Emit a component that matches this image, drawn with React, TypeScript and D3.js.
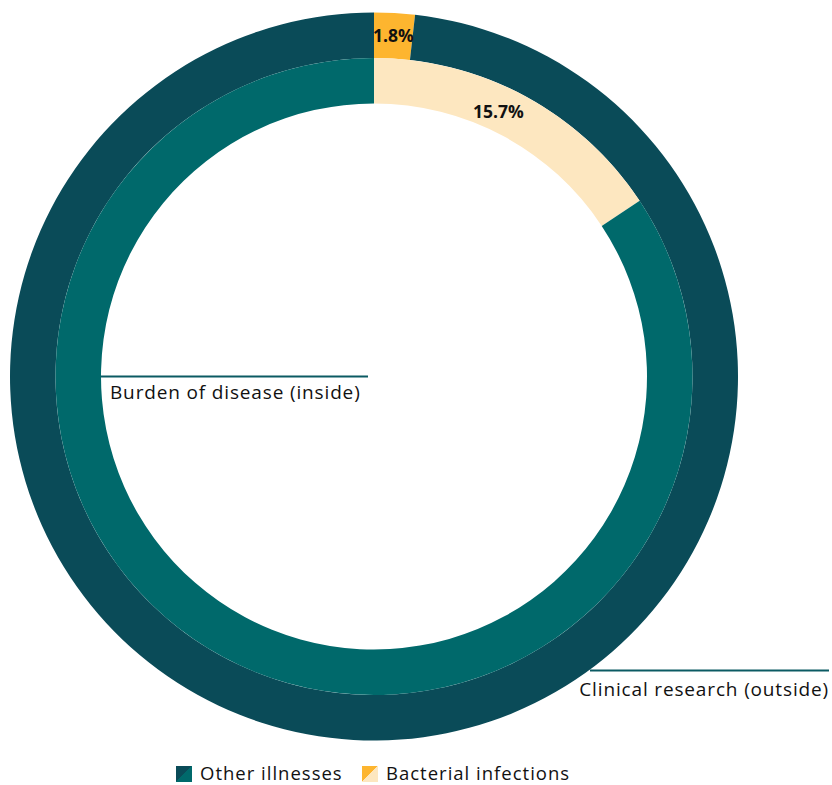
import React from "react";
import * as d3 from "d3";

const categories = ["Bacterial infections", "Other illnesses"];
const outerValues = [1.8, 98.2]; // Clinical research (outside)
const innerValues = [15.7, 84.3]; // Burden of disease (inside)
const outerColors = ["#fdb52f", "#0a4b58"];
const innerColors = ["#fde7c0", "#00696b"];
const legendOrder = ["Other illnesses", "Bacterial infections"];
const ringLabels = ["Burden of disease (inside)", "Clinical research (outside)"];

const W = 832;
const H = 785;
const FONT = "'Open Sans', sans-serif";
const LS = 0.85;

export default function App() {
  const cx = 374;
  const cy = 376.5;
  const rOuter = 364;
  const rMid = 318.5;
  const rInner = 273;

  const pie = d3.pie<number>().sort(null).value((d) => d);
  const outerArcs = pie(outerValues);
  const innerArcs = pie(innerValues);
  const outerArc = d3.arc<d3.PieArcDatum<number>>().innerRadius(rMid).outerRadius(rOuter);
  const innerArc = d3.arc<d3.PieArcDatum<number>>().innerRadius(rInner).outerRadius(rMid);

  const oc = outerArc.centroid(outerArcs[0]);
  const innerLabelArc = d3.arc<any>().innerRadius(rInner).outerRadius(rMid);
  const ia = innerArcs[0];
  const il = innerLabelArc.centroid({ ...ia, endAngle: ia.startAngle + (ia.endAngle - ia.startAngle) * 0.88 } as any);

  const legendX = [176, 362];

  return (
    <svg
      width={W}
      height={H}
      style={{ position: "absolute", left: 0, top: 0, background: "#fff" }}
      fontFamily={FONT}
    >
      <defs>
        {legendOrder.map((name, i) => {
          const idx = categories.indexOf(name);
          return (
            <linearGradient key={name} id={`sw${i}`} x1="0" y1="0" x2="1" y2="1">
              <stop offset="0.5" stopColor={outerColors[idx]} />
              <stop offset="0.5" stopColor={innerColors[idx]} />
            </linearGradient>
          );
        })}
      </defs>
      <g transform={`translate(${cx},${cy})`}>
        {outerArcs.map((a, i) => (
          <path key={"o" + i} d={outerArc(a) || ""} fill={outerColors[i]} />
        ))}
        {innerArcs.map((a, i) => (
          <path key={"i" + i} d={innerArc(a) || ""} fill={innerColors[i]} />
        ))}
        <text x={oc[0]} y={oc[1]} dy="0.35em" textAnchor="middle" fontWeight={700} fontSize={17.5} fill="#111">
          {outerValues[0].toFixed(1)}%
        </text>
        <text x={il[0]} y={il[1] + 4} dy="0.35em" textAnchor="middle" fontWeight={700} fontSize={17.5} fill="#111">
          {innerValues[0].toFixed(1)}%
        </text>
        <line x1={-rInner} x2={-6} y1={0} y2={0} stroke="#0b5a63" strokeWidth={2} />
        <text x={-rInner + 9} y={22} fontSize={19} letterSpacing={LS} fill="#111">
          {ringLabels[0]}
        </text>
      </g>
      <line x1={590} x2={829} y1={670.5} y2={670.5} stroke="#0b5a63" strokeWidth={2} />
      <text x={829} y={696} textAnchor="end" fontSize={19} letterSpacing={LS} fill="#111">
        {ringLabels[1]}
      </text>
      {legendOrder.map((name, i) => (
        <g key={name} transform={`translate(${legendX[i]},766)`}>
          <rect width={16} height={16} fill={`url(#sw${i})`} />
          <text x={24} y={14} fontSize={18.5} letterSpacing={1} fill="#111">
            {name}
          </text>
        </g>
      ))}
    </svg>
  );
}
